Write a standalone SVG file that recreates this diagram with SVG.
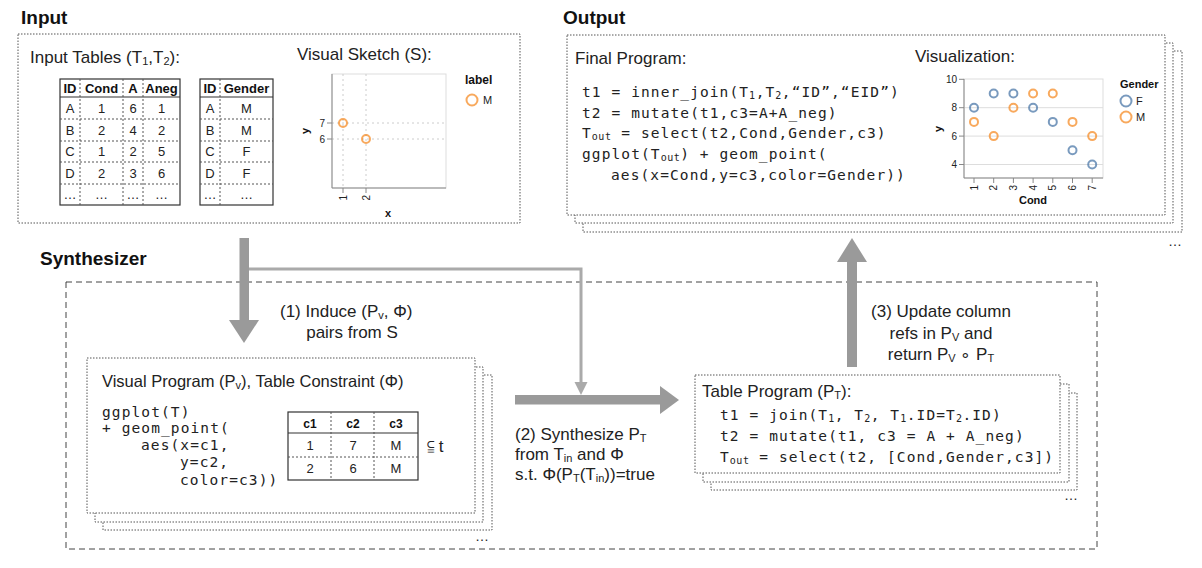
<svg xmlns="http://www.w3.org/2000/svg" width="1202" height="568" viewBox="0 0 1202 568">
<style>
.title{font:bold 19px "Liberation Sans",Arial,sans-serif;fill:#111}
.lbl{font:17px "Liberation Sans",Arial,sans-serif;fill:#222}
.code{font:14.5px "DejaVu Sans Mono",monospace;letter-spacing:1.1px;fill:#222}
.sub{font-size:11px}
.code .sub{font-size:10px;letter-spacing:0.5px}
.th{font:bold 13px "Liberation Sans",Arial,sans-serif;fill:#111;text-anchor:middle}
.td{font:13px "Liberation Sans",Arial,sans-serif;fill:#222;text-anchor:middle}
.box{fill:#fff;stroke:#555;stroke-width:1;stroke-dasharray:1.5 1.5}
.dash{fill:none;stroke:#444;stroke-width:1;stroke-dasharray:6 4}
.tb{fill:#fff;stroke:#333;stroke-width:1.2}
.dl{stroke:#555;stroke-width:1;stroke-dasharray:2 2}
.sl{stroke:#333;stroke-width:1.2}
.ax{font:10px "Liberation Sans",Arial,sans-serif;fill:#222}
.axt{font:bold 11px "Liberation Sans",Arial,sans-serif;fill:#111}
.frame{fill:#fff;stroke:#ddd;stroke-width:1}
.axis{stroke:#888;stroke-width:1;fill:none}
.grid{stroke:#ddd;stroke-width:1}
.gridd{stroke:#ccc;stroke-width:1;stroke-dasharray:2 3}
.pf{fill:none;stroke:#4c78a8;stroke-width:2;stroke-opacity:0.75}
.pm{fill:none;stroke:#f58518;stroke-width:2;stroke-opacity:0.7}
.arrow{fill:#9a9a9a}
.thin{fill:none;stroke:#aaa;stroke-width:3}
.dots{font:14px "Liberation Sans",Arial,sans-serif;fill:#222}
</style>

<!-- Titles -->
<text class="title" x="21" y="24">Input</text>
<text class="title" x="563" y="24">Output</text>
<text class="title" x="40" y="265">Synthesizer</text>

<!-- Synthesizer frame -->
<g id="synthesizer">
<rect class="dash" x="66" y="282" width="1031" height="267"/>
</g>

<!-- Input -->
<g id="input">
<rect class="box" x="18" y="34" width="502" height="189"/>
<text class="lbl" x="30" y="63">Input Tables (T<tspan class="sub" dy="2">1</tspan><tspan dy="-2">,T</tspan><tspan class="sub" dy="2">2</tspan><tspan dy="-2">):</tspan></text>
<!-- table 1 -->
<rect class="tb" x="60" y="79" width="120" height="126"/>
<line class="sl" x1="60" y1="97" x2="180" y2="97"/>
<line class="dl" x1="60" y1="119" x2="180" y2="119"/>
<line class="dl" x1="60" y1="141" x2="180" y2="141"/>
<line class="dl" x1="60" y1="162" x2="180" y2="162"/>
<line class="dl" x1="60" y1="184" x2="180" y2="184"/>
<line class="dl" x1="80" y1="79" x2="80" y2="205"/>
<line class="dl" x1="123" y1="79" x2="123" y2="205"/>
<line class="dl" x1="143" y1="79" x2="143" y2="205"/>
<text class="th" x="70" y="93">ID</text><text class="th" x="101.5" y="93">Cond</text><text class="th" x="133" y="93">A</text><text class="th" x="161.5" y="93">Aneg</text>
<text class="td" x="70" y="113">A</text><text class="td" x="101.5" y="113">1</text><text class="td" x="133" y="113">6</text><text class="td" x="161.5" y="113">1</text>
<text class="td" x="70" y="135">B</text><text class="td" x="101.5" y="135">2</text><text class="td" x="133" y="135">4</text><text class="td" x="161.5" y="135">2</text>
<text class="td" x="70" y="156">C</text><text class="td" x="101.5" y="156">1</text><text class="td" x="133" y="156">2</text><text class="td" x="161.5" y="156">5</text>
<text class="td" x="70" y="178">D</text><text class="td" x="101.5" y="178">2</text><text class="td" x="133" y="178">3</text><text class="td" x="161.5" y="178">6</text>
<text class="td" x="70" y="199">…</text><text class="td" x="101.5" y="199">…</text><text class="td" x="133" y="199">…</text><text class="td" x="161.5" y="199">…</text>
<!-- table 2 -->
<rect class="tb" x="200" y="79" width="73" height="126"/>
<line class="sl" x1="200" y1="97" x2="273" y2="97"/>
<line class="dl" x1="200" y1="119" x2="273" y2="119"/>
<line class="dl" x1="200" y1="141" x2="273" y2="141"/>
<line class="dl" x1="200" y1="162" x2="273" y2="162"/>
<line class="dl" x1="200" y1="184" x2="273" y2="184"/>
<line class="dl" x1="220" y1="79" x2="220" y2="205"/>
<text class="th" x="210" y="93">ID</text><text class="th" x="246.5" y="93">Gender</text>
<text class="td" x="210" y="113">A</text><text class="td" x="246.5" y="113">M</text>
<text class="td" x="210" y="135">B</text><text class="td" x="246.5" y="135">M</text>
<text class="td" x="210" y="156">C</text><text class="td" x="246.5" y="156">F</text>
<text class="td" x="210" y="178">D</text><text class="td" x="246.5" y="178">F</text>
<text class="td" x="210" y="199">…</text><text class="td" x="246.5" y="199">…</text>
<!-- visual sketch -->
<text class="lbl" x="297" y="60">Visual Sketch (S):</text>
<rect class="frame" x="332" y="74" width="114" height="114"/>
<line class="gridd" x1="343" y1="74" x2="343" y2="188"/>
<line class="gridd" x1="366" y1="74" x2="366" y2="188"/>
<line class="gridd" x1="332" y1="123" x2="446" y2="123"/>
<line class="gridd" x1="332" y1="139" x2="446" y2="139"/>
<path class="axis" d="M332,74V188H446"/>
<path class="axis" d="M327,123H332M327,139H332M343,188V193M366,188V193"/>
<text class="ax" x="325" y="126.5" text-anchor="end">7</text>
<text class="ax" x="325" y="142.5" text-anchor="end">6</text>
<text class="ax" transform="translate(343,195) rotate(-90)" text-anchor="end" dy="3.5">1</text>
<text class="ax" transform="translate(366,195) rotate(-90)" text-anchor="end" dy="3.5">2</text>
<text class="axt" transform="translate(305,131) rotate(-90)" text-anchor="middle" dy="3.5">y</text>
<text class="axt" x="388" y="217" text-anchor="middle">x</text>
<circle class="pm" cx="343" cy="123" r="4"/>
<circle class="pm" cx="366" cy="139" r="4"/>
<text class="axt" x="465" y="84" style="font-size:12px">label</text>
<circle class="pm" cx="472" cy="100" r="5.5"/>
<text class="ax" x="483" y="104" style="font-size:11px">M</text>
</g>

<!-- Output -->
<g id="output">
<rect class="box" x="583" y="51" width="599" height="181"/>
<rect class="box" x="575" y="43" width="598" height="180"/>
<rect class="box" x="567" y="35" width="598" height="180"/>
<text class="dots" x="1168" y="246">…</text>
<text class="lbl" x="575" y="64">Final Program:</text>
<text class="code" x="582" y="97">t1 = inner_join(T<tspan class="sub" dy="2">1</tspan><tspan dy="-2">,T</tspan><tspan class="sub" dy="2">2</tspan><tspan dy="-2">,“ID”,“EID”)</tspan></text>
<text class="code" x="582" y="118">t2 = mutate(t1,c3=A+A_neg)</text>
<text class="code" x="582" y="138">T<tspan class="sub" dy="2">out</tspan><tspan dy="-2"> = select(t2,Cond,Gender,c3)</tspan></text>
<text class="code" x="582" y="159">ggplot(T<tspan class="sub" dy="2">out</tspan><tspan dy="-2">) + geom_point(</tspan></text>
<text class="code" x="611" y="180">aes(x=Cond,y=c3,color=Gender))</text>
<text class="lbl" x="915" y="62">Visualization:</text>
<!-- chart -->
<rect class="frame" x="964" y="79" width="139" height="99"/>
<line class="grid" x1="964" y1="107.7" x2="1103" y2="107.7"/>
<line class="grid" x1="964" y1="136.1" x2="1103" y2="136.1"/>
<line class="grid" x1="964" y1="164.5" x2="1103" y2="164.5"/>
<path class="axis" d="M964,79V178H1103"/>
<path class="axis" d="M959,79.3H964M959,107.7H964M959,136.1H964M959,164.5H964M974,178V183M993.7,178V183M1013.4,178V183M1033.1,178V183M1052.8,178V183M1072.5,178V183M1092.2,178V183"/>
<text class="ax" x="957" y="83" text-anchor="end">10</text>
<text class="ax" x="957" y="111" text-anchor="end">8</text>
<text class="ax" x="957" y="139.5" text-anchor="end">6</text>
<text class="ax" x="957" y="168" text-anchor="end">4</text>
<g class="ax" text-anchor="end">
<text transform="translate(974,185) rotate(-90)" dy="3.5">1</text>
<text transform="translate(993.7,185) rotate(-90)" dy="3.5">2</text>
<text transform="translate(1013.4,185) rotate(-90)" dy="3.5">3</text>
<text transform="translate(1033.1,185) rotate(-90)" dy="3.5">4</text>
<text transform="translate(1052.8,185) rotate(-90)" dy="3.5">5</text>
<text transform="translate(1072.5,185) rotate(-90)" dy="3.5">6</text>
<text transform="translate(1092.2,185) rotate(-90)" dy="3.5">7</text>
</g>
<text class="axt" transform="translate(938,129) rotate(-90)" text-anchor="middle" dy="3.5">y</text>
<text class="axt" x="1033" y="204" text-anchor="middle">Cond</text>
<circle class="pf" cx="974" cy="107.7" r="4"/>
<circle class="pf" cx="993.7" cy="93.5" r="4"/>
<circle class="pf" cx="1013.4" cy="93.5" r="4"/>
<circle class="pf" cx="1033.1" cy="107.7" r="4"/>
<circle class="pf" cx="1052.8" cy="121.9" r="4"/>
<circle class="pf" cx="1072.5" cy="150.3" r="4"/>
<circle class="pf" cx="1092.2" cy="164.5" r="4"/>
<circle class="pm" cx="974" cy="121.9" r="4"/>
<circle class="pm" cx="993.7" cy="136.1" r="4"/>
<circle class="pm" cx="1013.4" cy="107.7" r="4"/>
<circle class="pm" cx="1033.1" cy="93.5" r="4"/>
<circle class="pm" cx="1052.8" cy="93.5" r="4"/>
<circle class="pm" cx="1072.5" cy="121.9" r="4"/>
<circle class="pm" cx="1092.2" cy="136.1" r="4"/>
<text class="axt" x="1120" y="88">Gender</text>
<circle class="pf" cx="1126" cy="101" r="5.5"/>
<text class="ax" x="1136" y="105" style="font-size:11px">F</text>
<circle class="pm" cx="1126" cy="117" r="5.5"/>
<text class="ax" x="1136" y="121" style="font-size:11px">M</text>
</g>

<!-- Visual program -->
<g id="visual-program">
<rect class="box" x="103" y="375" width="389" height="155"/>
<rect class="box" x="95" y="367" width="388" height="155"/>
<rect class="box" x="87" y="358" width="388" height="155"/>
<text class="dots" x="475" y="541">…</text>
<text class="lbl" x="102" y="387" style="font-size:16.5px">Visual Program (P<tspan class="sub" dy="2">v</tspan><tspan dy="-2">), Table Constraint (Φ)</tspan></text>
<text class="code" x="102" y="417">ggplot(T)</text>
<text class="code" x="102" y="433">+ geom_point(</text>
<text class="code" x="141" y="450">aes(x=c1,</text>
<text class="code" x="180" y="467">y=c2,</text>
<text class="code" x="180" y="485">color=c3))</text>
<rect class="tb" x="288" y="412" width="130" height="68"/>
<line class="sl" x1="288" y1="433" x2="418" y2="433"/>
<line class="dl" x1="288" y1="457" x2="418" y2="457"/>
<line class="dl" x1="331" y1="412" x2="331" y2="480"/>
<line class="dl" x1="374" y1="412" x2="374" y2="480"/>
<text class="th" x="310" y="428" style="font-size:12px">c1</text><text class="th" x="353" y="428" style="font-size:12px">c2</text><text class="th" x="396" y="428" style="font-size:12px">c3</text>
<text class="td" x="310" y="450">1</text><text class="td" x="353" y="450">7</text><text class="td" x="396" y="450">M</text>
<text class="td" x="310" y="473">2</text><text class="td" x="353" y="473">6</text><text class="td" x="396" y="473">M</text>
<text class="lbl" x="427" y="452">⫅ t</text>
</g>

<!-- Table program -->
<g id="table-program">
<rect class="box" x="711" y="393" width="366" height="97"/>
<rect class="box" x="703" y="384" width="366" height="98"/>
<rect class="box" x="695" y="375" width="365" height="98"/>
<text class="dots" x="1064" y="500">…</text>
<text class="lbl" x="702" y="397">Table Program (P<tspan class="sub" dy="2">T</tspan><tspan dy="-2">):</tspan></text>
<text class="code" x="720" y="420">t1 = join(T<tspan class="sub" dy="2">1</tspan><tspan dy="-2">, T</tspan><tspan class="sub" dy="2">2</tspan><tspan dy="-2">, T</tspan><tspan class="sub" dy="2">1</tspan><tspan dy="-2">.ID=T</tspan><tspan class="sub" dy="2">2</tspan><tspan dy="-2">.ID)</tspan></text>
<text class="code" x="720" y="441">t2 = mutate(t1, c3 = A + A_neg)</text>
<text class="code" x="720" y="462">T<tspan class="sub" dy="2">out</tspan><tspan dy="-2"> = select(t2, [Cond,Gender,c3])</tspan></text>
</g>

<!-- Connectors -->
<g id="connectors">
<polyline class="thin" points="248,269 581,269 581,383"/>
<polygon class="arrow" points="574.5,382 587.5,382 581,395" style="fill:#aaa"/>
<rect class="arrow" x="239.5" y="238" width="9.5" height="83"/>
<polygon class="arrow" points="229,320 259,320 244,343"/>
<rect class="arrow" x="515" y="395" width="146" height="9.5"/>
<polygon class="arrow" points="660,386 660,414 679,400"/>
<rect class="arrow" x="847" y="261" width="10" height="106"/>
<polygon class="arrow" points="837,262 867,262 852,238"/>
</g>

<!-- Connector labels -->
<g id="labels">
<text class="lbl" x="280" y="317">(1) Induce (P<tspan class="sub" dy="2">v</tspan><tspan dy="-2">, Φ)</tspan></text>
<text class="lbl" x="352" y="338" text-anchor="middle">pairs from S</text>
<text class="lbl" x="515" y="440">(2) Synthesize P<tspan class="sub" dy="2">T</tspan></text>
<text class="lbl" x="515" y="460">from T<tspan class="sub" dy="2">in</tspan><tspan dy="-2"> and Φ</tspan></text>
<text class="lbl" x="515" y="480">s.t. Φ(P<tspan class="sub" dy="2">T</tspan><tspan dy="-2">(T</tspan><tspan class="sub" dy="2">in</tspan><tspan dy="-2">))=true</tspan></text>
<text class="lbl" x="941" y="317" text-anchor="middle">(3) Update column</text>
<text class="lbl" x="941" y="339" text-anchor="middle">refs in P<tspan class="sub" dy="2">V</tspan><tspan dy="-2"> and</tspan></text>
<text class="lbl" x="941" y="360" text-anchor="middle">return P<tspan class="sub" dy="2">V</tspan><tspan dy="-2"> ∘ P</tspan><tspan class="sub" dy="2">T</tspan></text>
</g>
</svg>
